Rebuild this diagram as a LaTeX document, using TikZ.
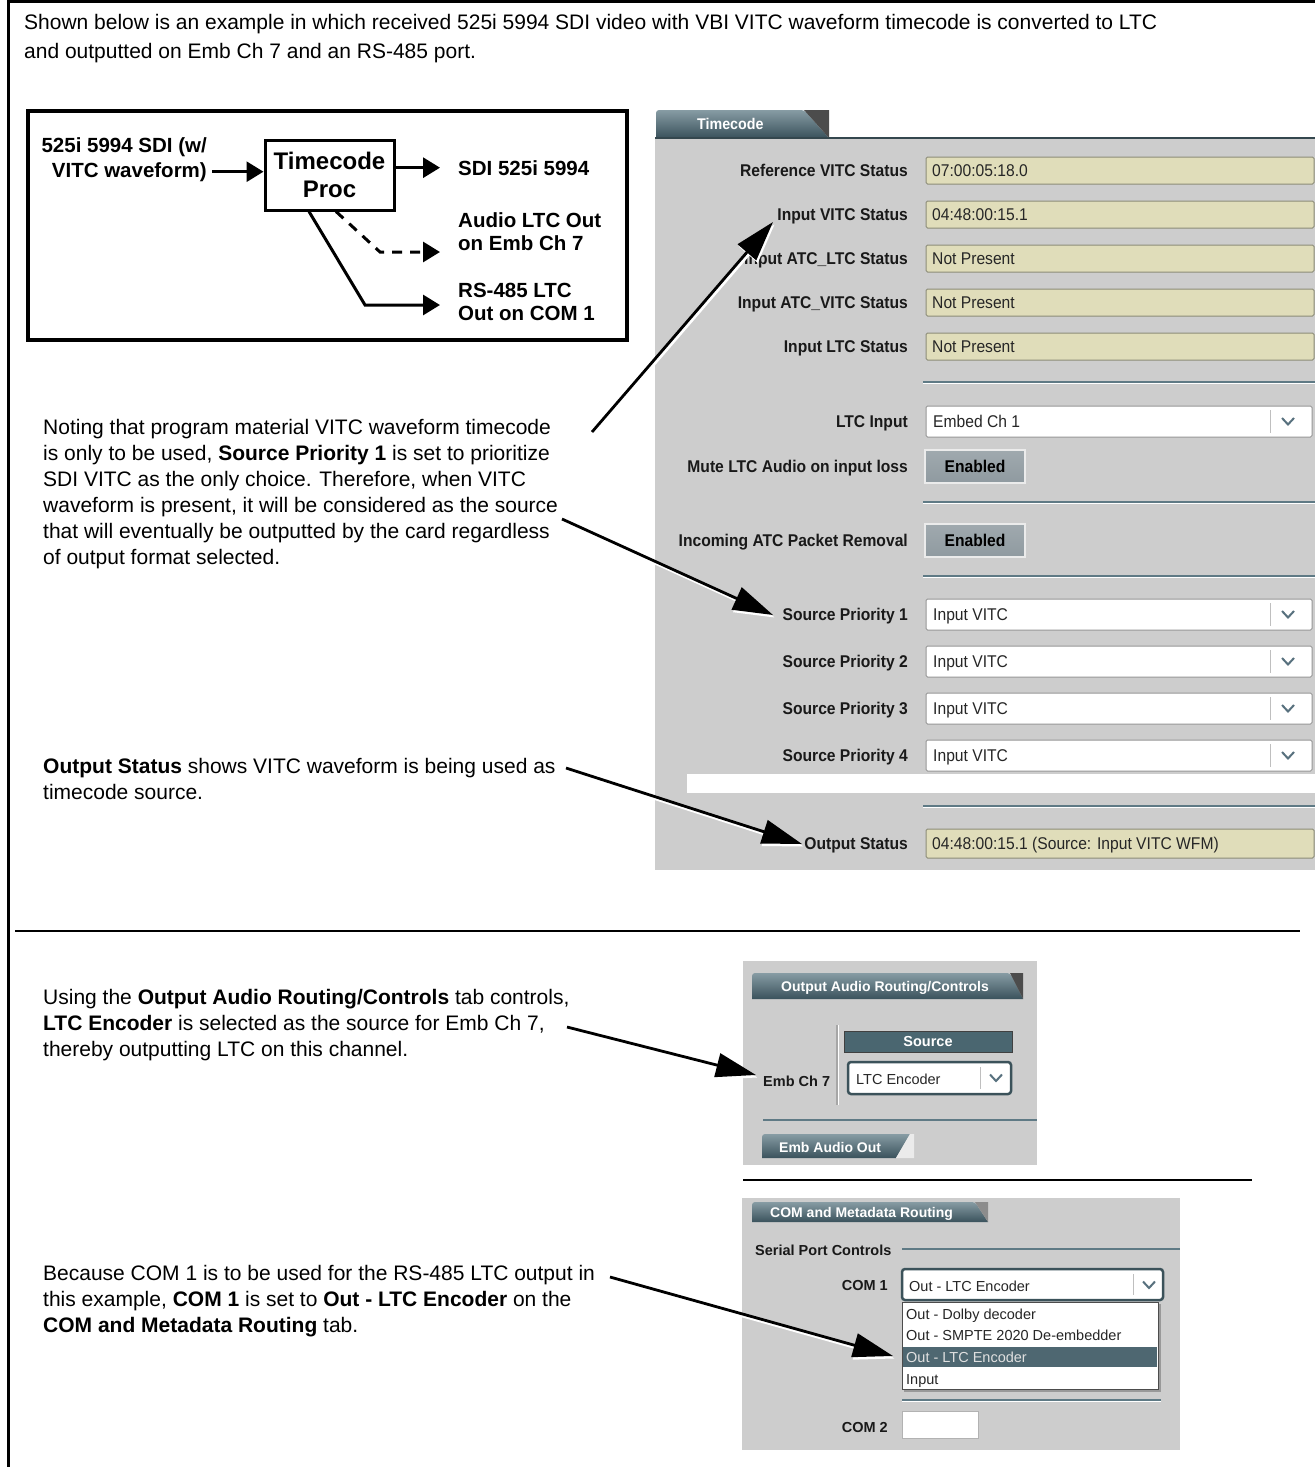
\documentclass[tikz,border=0pt]{standalone}
\usepackage{fontspec}
\setmainfont{Liberation Sans}
\newfontfamily\guifont[FakeStretch=0.92]{Liberation Sans}
\usetikzlibrary{arrows.meta,calc}
\definecolor{panelgrey}{RGB}{205,205,205}
\definecolor{fieldyellow}{RGB}{224,221,186}
\definecolor{fieldborder}{RGB}{140,140,120}
\definecolor{tabtop}{RGB}{135,156,164}
\definecolor{tabbot}{RGB}{58,82,92}
\definecolor{slate}{RGB}{74,102,112}
\definecolor{sepline}{RGB}{95,122,133}
\definecolor{btngrey}{RGB}{143,154,160}
\definecolor{chevcol}{RGB}{88,113,126}
\definecolor{hilite}{RGB}{78,103,113}
\definecolor{ddborder}{RGB}{150,150,150}
\tikzset{
  body/.style={anchor=base west, inner sep=0pt, font=\fontsize{21}{26}\selectfont},
  dlabel/.style={inner sep=0pt, font=\fontsize{20.5}{24}\selectfont\bfseries},
  tcbox/.style={draw, line width=3pt, minimum width=129pt, minimum height=70pt, align=center, inner sep=0pt, font=\fontsize{24}{28}\selectfont\bfseries},
  darrow/.style={line width=3pt, -{Triangle[length=17pt,width=20pt]}},
  callout/.style={line width=2.8pt, -{Triangle[length=40pt,width=24pt]}},
  callshadow/.style={callout, white, transform canvas={shift={(1.5pt,-2.5pt)}}},
  glabel/.style={anchor=base east, inner sep=0pt, text=black!90, font=\guifont\fontsize{17}{20}\selectfont\bfseries},
  gvalue/.style={anchor=base west, inner sep=0pt, text=black!85, font=\guifont\fontsize{17}{20}\selectfont},
  lgl/.style={inner sep=0pt, text=black!90, font=\fontsize{14.5}{17}\selectfont\bfseries},
  lgv/.style={anchor=base west, inner sep=0pt, text=black!85, font=\fontsize{14.5}{17}\selectfont},
  tabtext/.style={anchor=base west, inner sep=0pt, text=white, font=\guifont\fontsize{15.5}{18}\selectfont\bfseries},
  field/.style={fill=fieldyellow, draw=fieldborder, line width=1pt, rounded corners=1.5pt},
  ddbox/.style={fill=white, draw=ddborder, line width=1pt, rounded corners=1.5pt},
  ddsel/.style={fill=white, draw=slate!80!black, line width=2.5pt, rounded corners=3pt},
  divline/.style={draw=black!25, line width=1pt},
  sepdark/.style={draw=sepline, line width=1.5pt},
  seplight/.style={draw=white, line width=1pt},
  tabshape/.style={top color=tabtop, bottom color=tabbot},
  btn/.style={draw=black!8, line width=1.5pt, top color=btngrey!85, bottom color=btngrey, minimum width=100pt, minimum height=33pt, inner sep=0pt, font=\guifont\fontsize{17}{20}\selectfont\bfseries},
  chev/.pic={\draw[line width=2pt, chevcol] (-6,-3.5) -- (0,3) -- (6,-3.5);}
}
\begin{document}
\begin{tikzpicture}[x=1pt,y=-1pt]
\useasboundingbox (0,0) rectangle (1315,1467);
% outer frame
\draw[line width=3pt] (8.5,0) -- (8.5,1467);
\draw[line width=3pt] (7,1.5) -- (1315,1.5);
% intro text
\node[body] (t1) at (24,29) {Shown below is an example in which received 525i 5994 SDI video with VBI VITC waveform timecode is converted to LTC};
\node[body] (t2) at (24,58) {and outputted on Emb Ch 7 and an RS-485 port.};

% ---- block diagram ----
\draw[line width=3.5pt] (28,111) rectangle (627,340);
\node[dlabel, anchor=base east] (in1) at (207,152) {525i 5994 SDI (w/};
\node[dlabel, anchor=base east] (in2) at (207,177) {VITC waveform)};
\node[tcbox] (tc) at (329.5,175) {Timecode\\Proc};
\node[dlabel, anchor=base west] (o1) at (458,175) {SDI 525i 5994};
\node[dlabel, anchor=base west] (o2a) at (458,227) {Audio LTC Out};
\node[dlabel, anchor=base west] (o2b) at (458,250) {on Emb Ch 7};
\node[dlabel, anchor=base west] (o3a) at (458,297) {RS-485 LTC};
\node[dlabel, anchor=base west] (o3b) at (458,320) {Out on COM 1};
\draw[darrow] ([xshift=5pt]in2.east) -- (tc.west |- in2.east);
\draw[darrow] (tc.east |- o1.west) -- ([xshift=-18pt]o1.west);
\coordinate (d1) at (380,252);
\coordinate (d2) at (440,252);
\draw[darrow, dash pattern=on 10pt off 8pt] ([xshift=6.5pt]tc.south) -- (d1) -- (d2);
\coordinate (r1) at (365,305);
\coordinate (r2) at (440,305);
\draw[darrow] ([xshift=-20.5pt]tc.south) -- (r1) -- (r2);

% ---- Timecode panel ----
\fill[panelgrey] (655,138) rectangle (1315,870);
\path[tabshape, rounded corners=3pt] (656,138) -- (656,110) -- (804,110) [sharp corners] -- (829,138) -- cycle;
\fill[black!70] (804,110) -- (829,110) -- (829,138) -- cycle;
\draw[line width=2pt, slate!70!black] (655,138) -- (1315,138);
\node[tabtext] (tabtc) at (697,129) {Timecode};

\foreach \nm/\lab/\val/\yt in {fa/Reference VITC Status/07:00:05:18.0/157, fb/Input VITC Status/04:48:00:15.1/201, fc/Input ATC\_LTC Status/Not Present/245, fd/Input ATC\_VITC Status/Not Present/289, fe/Input LTC Status/Not Present/333}
{
  \draw[field] (926,\yt) rectangle (1314,\yt+27);
  \node[glabel] (l\nm) at (908,\yt+19.5) {\lab};
  \node[gvalue] (v\nm) at (932,\yt+19.5) {\val};
}
\draw[sepdark] (923,382) -- (1315,382);
\draw[seplight] (923,383.8) -- (1315,383.8);

\foreach \nm/\lab/\val/\yt in {lt/LTC Input/Embed Ch 1/406, s1/Source Priority 1/Input VITC/599, s2/Source Priority 2/Input VITC/646, s3/Source Priority 3/Input VITC/693, s4/Source Priority 4/Input VITC/740}
{
  \draw[ddbox] (926,\yt) rectangle (1312,\yt+31);
  \draw[divline] (1270,\yt+4) -- (1270,\yt+27);
  \pic at (1288,\yt+15.5) {chev};
  \node[glabel] (l\nm) at (908,\yt+21.5) {\lab};
  \node[gvalue] (v\nm) at (933,\yt+21.5) {\val};
}

\node[btn] (bmute) at (975,466.5) {Enabled};
\node[glabel] (lmute) at (908,472.5) {Mute LTC Audio on input loss};
\draw[sepdark] (923,502) -- (1315,502);
\draw[seplight] (923,503.8) -- (1315,503.8);
\node[btn] (binc) at (975,540.5) {Enabled};
\node[glabel] (linc) at (908,546.5) {Incoming ATC Packet Removal};
\draw[sepdark] (923,576) -- (1315,576);
\draw[seplight] (923,577.8) -- (1315,577.8);

\fill[white] (687,774) rectangle (1315,793);
\draw[sepdark] (923,806) -- (1315,806);
\draw[seplight] (923,807.8) -- (1315,807.8);
\draw[field] (926,829) rectangle (1314,858);
\node[glabel] (lout) at (908,849.5) {Output Status};
\node[gvalue] (vout) at (932,849.5) {04:48:00:15.1 (Source: Input VITC WFM)};

% ---- left descriptions (upper) ----
\node[body] (p1a) at (43,434) {Noting that program material VITC waveform timecode};
\node[body] (p1b) at (43,460) {is only to be used, \textbf{Source Priority 1} is set to prioritize};
\node[body] (p1c) at (43,486) {SDI VITC as the only choice. Therefore, when VITC};
\node[body] (p1d) at (43,512) {waveform is present, it will be considered as the source};
\node[body] (p1e) at (43,538) {that will eventually be outputted by the card regardless};
\node[body] (p1f) at (43,564) {of output format selected.};
\node[body] (p2a) at (43,773) {\textbf{Output Status} shows VITC waveform is being used as};
\node[body] (p2b) at (43,799) {timecode source.};

% callouts (upper)
\coordinate (c1s) at (592,432);
\coordinate (c1t) at (773,222);
\coordinate (c2s) at (562,519);
\coordinate (c2t) at (773,615);
\coordinate (c3s) at (566,768);
\coordinate (c3t) at (802,844);
\draw[callshadow] (c1s) -- (c1t);
\draw[callout] (c1s) -- (c1t);
\draw[callshadow] (c2s) -- (c2t);
\draw[callout] (c2s) -- (c2t);
\draw[callshadow] (c3s) -- (c3t);
\draw[callout] (c3s) -- (c3t);

% separator
\draw[line width=2.5pt] (15,931) -- (1300,931);

% ---- lower descriptions ----
\node[body] (p3a) at (43,1004) {Using the \textbf{Output Audio Routing/Controls} tab controls,};
\node[body] (p3b) at (43,1030) {\textbf{LTC Encoder} is selected as the source for Emb Ch 7,};
\node[body] (p3c) at (43,1056) {thereby outputting LTC on this channel.};
\node[body] (p4a) at (43,1280) {Because COM 1 is to be used for the RS-485 LTC output in};
\node[body] (p4b) at (43,1306) {this example, \textbf{COM 1} is set to \textbf{Out - LTC Encoder} on the};
\node[body] (p4c) at (43,1332) {\textbf{COM and Metadata Routing} tab.};

% ---- Output Audio Routing panel ----
\fill[panelgrey] (743,961) rectangle (1037,1165);
\path[tabshape, rounded corners=3pt] (752,999) -- (752,973) -- (1010,973) [sharp corners] -- (1023,999) -- cycle;
\fill[black!70] (1010,973) -- (1023,973) -- (1023,999) -- cycle;
\node[tabtext, font=\fontsize{14}{17}\selectfont\bfseries] (tabau) at (781,991) {Output Audio Routing/Controls};
\draw[black!35, line width=1.2pt] (837,1025) -- (837,1105);
\draw[white, line width=1pt] (838.5,1025) -- (838.5,1105);
\node[draw=black!75, fill=slate, line width=1pt, minimum width=168pt, minimum height=21pt, inner sep=0pt, text=white, font=\fontsize{14.5}{17}\selectfont\bfseries] (src) at (928,1041.5) {Source};
\draw[ddsel] (848,1062) rectangle (1011,1094);
\draw[divline] (980,1067) -- (980,1089);
\pic at (996,1078) {chev};
\node[lgv] (vltc) at (856,1084) {LTC Encoder};
\node[lgl, anchor=base west] (lemb) at (763,1086) {Emb Ch 7};
\draw[sepdark] (763,1120) -- (1037,1120);
\path[tabshape, rounded corners=3pt] (762,1158) -- (762,1134) [sharp corners] -- (910,1134) -- (896,1158) -- cycle;
\fill[black!8] (910,1134) -- (914,1134) -- (914,1158) -- (896,1158) -- cycle;
\node[tabtext, font=\fontsize{14}{17}\selectfont\bfseries] (tabemb) at (779,1152) {Emb Audio Out};

\draw[line width=2pt] (743,1180) -- (1252,1180);

% ---- COM panel ----
\fill[panelgrey] (742,1198) rectangle (1180,1450);
\path[tabshape, rounded corners=3pt] (752,1222) -- (752,1202) -- (975,1202) [sharp corners] -- (988,1222) -- cycle;
\fill[black!45] (975,1202) -- (988,1202) -- (988,1222) -- cycle;
\node[tabtext, font=\fontsize{14}{17}\selectfont\bfseries] (tabcom) at (770,1217) {COM and Metadata Routing};
\node[lgl, anchor=base west] (lser) at (755,1255) {Serial Port Controls};
\draw[sepdark, line width=1.2pt] (902,1249) -- (1180,1249);
\node[lgl, anchor=base east] (lcom1) at (888,1290) {COM 1};
\draw[ddsel] (902,1269) rectangle (1163,1300);
\draw[divline] (1133,1274) -- (1133,1295);
\pic at (1149,1285) {chev};
\node[lgv] (vcom1) at (909,1291) {Out - LTC Encoder};
\fill[black!40] (904,1304) rectangle (1161,1392);
\draw[fill=white, draw=black!70, line width=1pt] (902,1302) rectangle (1158,1389);
\fill[hilite] (903,1347) rectangle (1157,1367);
\node[lgv] (i1) at (906,1319) {Out - Dolby decoder};
\node[lgv] (i2) at (906,1340) {Out - SMPTE 2020 De-embedder};
\node[lgv, text=black!12] (i3) at (906,1362) {Out - LTC Encoder};
\node[lgv] (i4) at (906,1384) {Input};
\draw[sepdark, line width=1.2pt] (902,1400) -- (1161,1400);
\draw[seplight] (902,1401.5) -- (1161,1401.5);
\node[lgl, anchor=base east] (lcom2) at (888,1432) {COM 2};
\draw[fill=white, draw=black!30, line width=1pt] (902,1411) rectangle (978,1438);

% callouts (lower)
\coordinate (c4s) at (567,1027);
\coordinate (c4t) at (756,1075);
\coordinate (c5s) at (610,1277);
\coordinate (c5t) at (893,1356);
\draw[callshadow] (c4s) -- (c4t);
\draw[callout] (c4s) -- (c4t);
\draw[callshadow] (c5s) -- (c5t);
\draw[callout] (c5s) -- (c5t);
\end{tikzpicture}
\end{document}
